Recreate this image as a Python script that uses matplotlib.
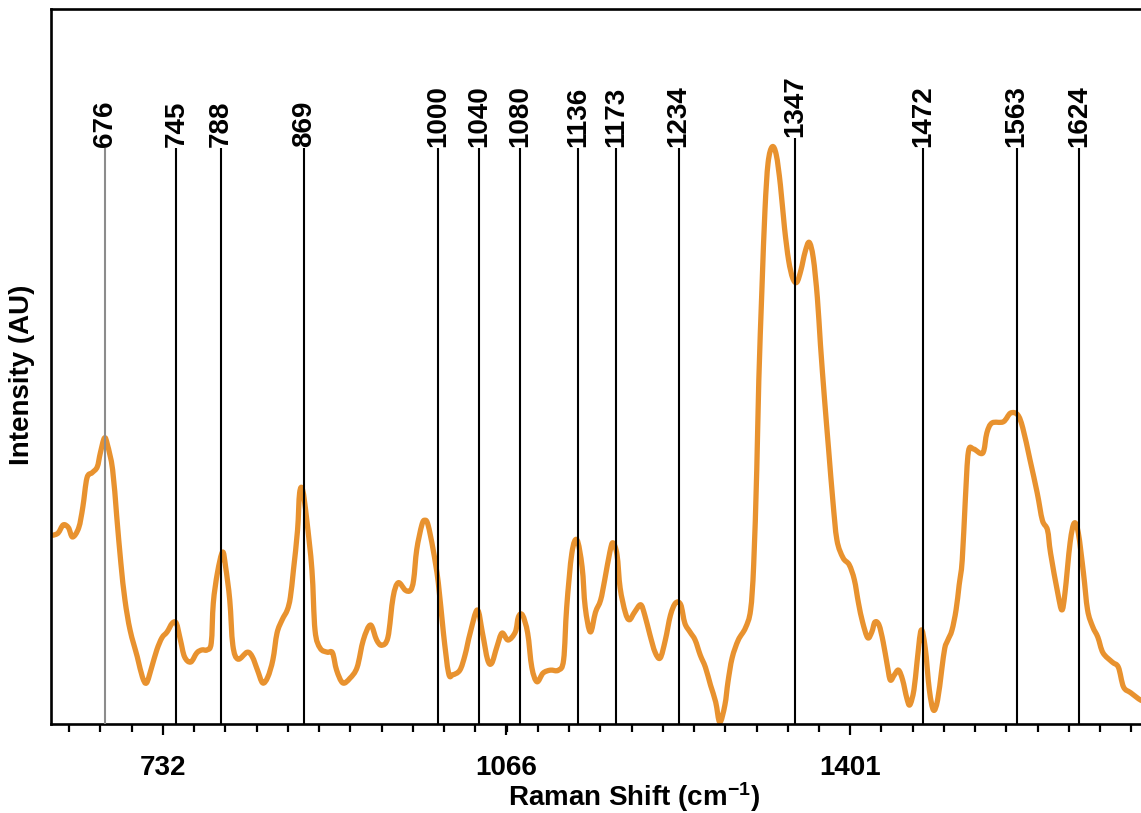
import numpy as np
import matplotlib.pyplot as plt
from matplotlib.path import Path
from matplotlib.patches import PathPatch
from matplotlib.ticker import FixedLocator, NullLocator

plt.rcParams['font.family'] = 'Liberation Sans'
plt.rcParams['font.weight'] = 'bold'
plt.rcParams['mathtext.fontset'] = 'custom'
plt.rcParams['mathtext.rm'] = 'Liberation Sans:bold'
plt.rcParams['mathtext.bf'] = 'Liberation Sans:bold'
plt.rcParams['mathtext.default'] = 'bf'

# Raman shift (cm-1) and intensity (normalised, AU)
shift = [
    625, 630, 635, 640, 644, 650, 654, 658, 663, 668,
    671, 675, 678, 683, 687, 691, 695, 700, 707, 712,
    716, 721, 726, 731, 736, 741, 745, 749, 753, 759,
    765, 770, 775, 779, 781, 785, 790, 793, 797, 800,
    805, 814, 819, 824, 829, 834, 839, 843, 848, 853,
    856, 859, 863, 865, 868, 872, 877, 880, 885, 892,
    897, 901, 907, 914, 921, 927, 934, 940, 945, 951,
    956, 961, 968, 973, 976, 979, 984, 987, 990, 995,
    1000, 1005, 1010, 1014, 1021, 1026, 1031, 1038, 1043, 1048,
    1052, 1057, 1062, 1068, 1075, 1078, 1082, 1087, 1091, 1096,
    1102, 1109, 1117, 1122, 1125, 1130, 1135, 1140, 1143, 1148,
    1153, 1158, 1162, 1167, 1170, 1174, 1177, 1182, 1186, 1191,
    1197, 1201, 1206, 1211, 1216, 1221, 1226, 1231, 1236, 1240,
    1245, 1250, 1255, 1260, 1265, 1270, 1274, 1279, 1282, 1286,
    1292, 1299, 1304, 1307, 1310, 1312, 1315, 1318, 1321, 1325,
    1329, 1333, 1337, 1341, 1345, 1349, 1353, 1357, 1361, 1365,
    1369, 1372, 1376, 1380, 1384, 1388, 1394, 1400, 1405, 1409,
    1413, 1418, 1422, 1425, 1429, 1433, 1437, 1440, 1444, 1448,
    1452, 1456, 1459, 1463, 1466, 1470, 1474, 1478, 1482, 1486,
    1490, 1493, 1496, 1500, 1504, 1507, 1510, 1513, 1516, 1521,
    1530, 1534, 1539, 1550, 1557, 1564, 1569, 1576, 1583, 1588,
    1593, 1596, 1603, 1607, 1610, 1615, 1619, 1623, 1628, 1632,
    1637, 1642, 1647, 1656, 1662, 1667, 1674, 1684, 1691,
]
intensity = [
    32.6, 33.0, 34.4, 33.9, 32.3, 33.9, 37.5, 42.5, 43.4, 44.4,
    46.8, 49.4, 48.2, 43.9, 35.8, 27.8, 21.4, 16.2, 11.6, 8.1,
    7.1, 9.8, 12.8, 14.9, 15.9, 17.4, 17.4, 14.5, 11.6, 10.7,
    12.3, 12.8, 12.8, 14.0, 20.9, 26.1, 29.7, 27.1, 21.4, 13.6,
    11.2, 12.4, 11.6, 9.3, 7.1, 8.1, 11.1, 15.7, 18.0, 19.7,
    21.9, 26.6, 33.5, 39.9, 40.4, 35.2, 26.6, 16.2, 13.1, 12.4,
    12.3, 9.3, 7.1, 7.9, 9.8, 14.5, 17.1, 14.5, 13.6, 15.0,
    21.9, 24.4, 23.1, 23.1, 24.9, 30.1, 34.4, 35.2, 34.4, 30.1,
    24.4, 15.7, 8.8, 8.5, 9.3, 11.9, 15.7, 19.7, 15.7, 11.1,
    10.5, 13.3, 15.7, 14.5, 15.9, 18.5, 18.8, 15.7, 9.8, 7.3,
    8.8, 9.3, 9.3, 11.1, 20.2, 29.5, 31.8, 27.1, 20.2, 15.9,
    19.3, 21.4, 24.9, 29.7, 31.3, 29.2, 23.5, 19.3, 18.0, 19.3,
    20.6, 18.8, 15.4, 12.4, 11.4, 14.5, 18.8, 20.9, 20.6, 17.4,
    15.9, 14.5, 11.9, 9.8, 6.7, 3.8, 0.3, 3.3, 7.3, 11.4,
    14.5, 16.6, 19.7, 27.5, 43.9, 59.4, 75.0, 88.8, 96.9, 99.7,
    98.3, 93.1, 85.7, 80.1, 77.0, 76.3, 78.4, 81.5, 83.2, 80.5,
    73.6, 65.5, 56.0, 47.3, 38.7, 31.8, 28.7, 27.5, 24.9, 20.9,
    17.6, 14.9, 15.9, 17.6, 17.1, 14.2, 10.2, 7.6, 8.5, 9.3,
    7.6, 4.5, 3.3, 5.9, 10.7, 16.2, 13.1, 5.9, 2.4, 4.1,
    9.3, 13.1, 14.5, 16.2, 19.7, 24.0, 28.3, 38.7, 47.0, 47.5,
    46.8, 50.3, 52.0, 52.2, 53.7, 53.4, 51.1, 45.6, 39.9, 35.2,
    33.5, 29.5, 22.6, 19.7, 22.6, 31.3, 34.7, 33.0, 26.1, 19.7,
    16.8, 15.0, 12.3, 10.7, 9.8, 6.4, 5.4, 4.1, 3.8,
]

# assigned band positions (cm-1)
peaks = [676, 745, 788, 869, 1000, 1040, 1080, 1136, 1173, 1234,
         1347, 1472, 1563, 1624]
tick_labels = ['732', '1066', '1401']


def smooth_path(x, y):
    # Catmull-Rom curve through every point, as cubic Bezier segments
    pts = np.column_stack([x, y]).astype(float)
    ext = np.vstack([pts[0], pts, pts[-1]])
    verts = [pts[0]]
    codes = [Path.MOVETO]
    for i in range(len(pts) - 1):
        p0, p1, p2, p3 = ext[i], ext[i + 1], ext[i + 2], ext[i + 3]
        verts += [p1 + (p2 - p0) / 6, p2 - (p3 - p1) / 6, p2]
        codes += [Path.CURVE4] * 3
    return Path(verts, codes)


s = np.array(shift)
v = np.array(intensity)

fig = plt.figure(figsize=(11.41, 8.13), dpi=100)
ax = fig.add_axes([51 / 1141, 89 / 813, 1166 / 1141, 715 / 813])

ax.add_patch(PathPatch(smooth_path(s, v), fill=False, edgecolor='#E8922F',
                       lw=3.8, joinstyle='round', capstyle='round', zorder=2))

# marker lines for each band, label sits on top of the line
for p in peaks:
    near = v[np.abs(s - p) <= 25]
    top = max(99.5, near.max() + 1.5)
    col = '0.55' if p == 676 else 'black'
    ax.vlines(p, 0, top, color=col, lw=1.5, zorder=3)
    ax.text(p, top + 0.2, str(p), rotation=90, ha='center', va='bottom',
            fontsize=20, fontweight='bold')

ax.set_xlim(623, 1758)
ax.set_ylim(0, 123.5)

major = [float(t) for t in tick_labels]
step = (major[-1] - major[0]) / 22
ax.xaxis.set_major_locator(FixedLocator(major))
ax.set_xticklabels(tick_labels)
ax.xaxis.set_minor_locator(FixedLocator(np.arange(major[0] - 3 * step, 1760, step)))
ax.tick_params(axis='x', which='major', direction='out', length=8, width=1.6,
               labelsize=20, pad=14)
ax.tick_params(axis='x', which='minor', direction='out', length=5.8, width=1.6)
ax.yaxis.set_major_locator(NullLocator())

for side in ['left', 'top', 'bottom', 'right']:
    ax.spines[side].set_linewidth(1.9)

ax.set_xlabel('Raman Shift (cm$^{-1}$)', fontsize=20, fontweight='bold', va='center')
ax.xaxis.set_label_coords((634 - 51) / 1166, -(797 - 724) / 715)
ax.set_ylabel('Intensity (AU)', fontsize=20, fontweight='bold', va='center')
ax.yaxis.set_label_coords(-(51 - 22) / 1166, (724 - 375) / 715)

fig.savefig('out.png', dpi=100)
